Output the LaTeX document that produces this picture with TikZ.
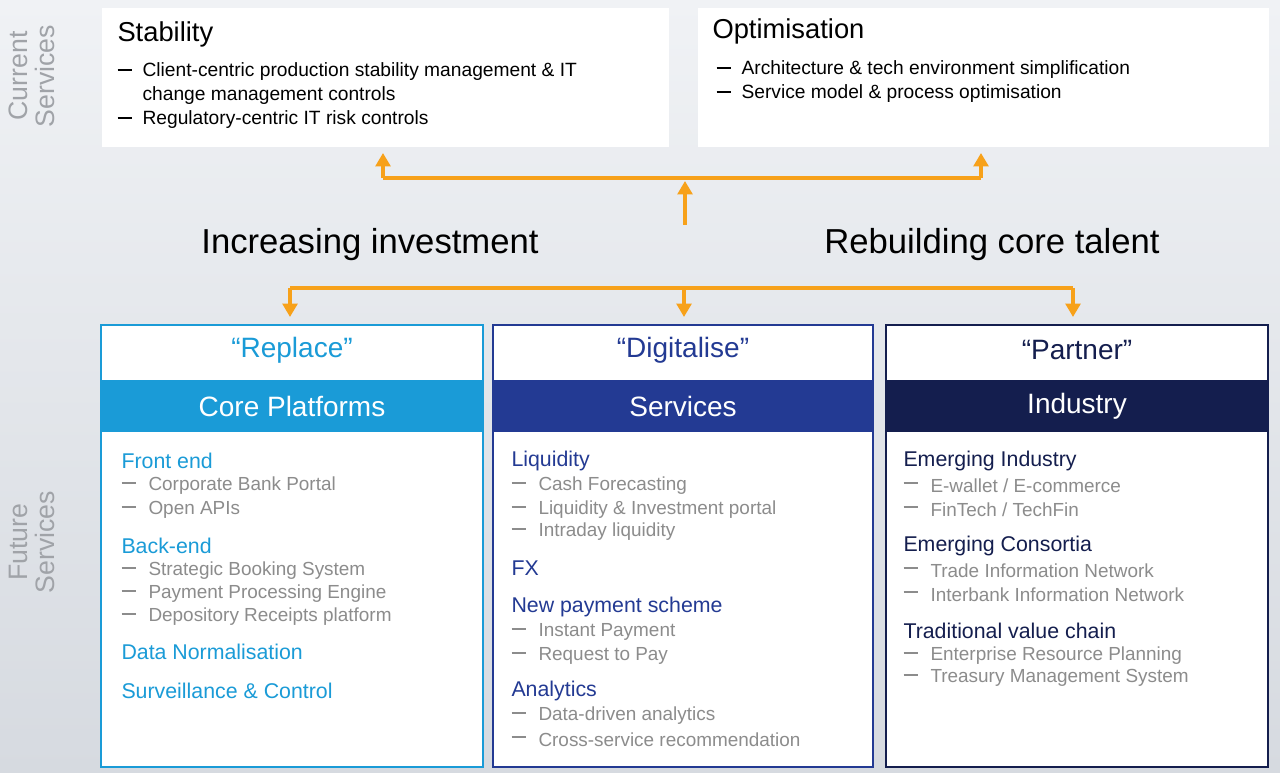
\documentclass[tikz,border=0pt]{standalone}
\usepackage{fontspec}
\setmainfont{Liberation Sans}
\usetikzlibrary{arrows.meta}
\definecolor{orangeArr}{RGB}{247,161,26}
\definecolor{replaceBlue}{RGB}{26,155,215}
\definecolor{digitBlue}{RGB}{35,58,147}
\definecolor{partnerNavy}{RGB}{20,30,78}
\definecolor{itemGrey}{RGB}{140,140,140}
\definecolor{sideGrey}{RGB}{160,163,168}
\tikzset{every picture/.style={line width=0.75pt}}
\tikzset{
  topbox/.style={fill=white, draw=none, inner sep=0pt},
  head/.style={anchor=west, inner sep=0pt, font=\fontsize{20.5}{24}\selectfont},
  bullet/.style={anchor=north west, inner sep=0pt, align=left, font=\fontsize{14.4}{18}\selectfont},
  big/.style={inner sep=0pt, font=\fontsize{26}{30}\selectfont},
  side/.style={rotate=90, inner sep=0pt, align=center, text=sideGrey, font=\fontsize{20}{20}\selectfont},
  orange/.style={draw=orangeArr, line width=2.8pt},
  orangeTip/.style={orange, -{Triangle[length=10pt,width=11pt]}},
  title/.style={inner sep=0pt, font=\fontsize{21}{24}\selectfont},
  sub/.style={anchor=west, inner sep=0pt, font=\fontsize{16}{18}\selectfont},
  item/.style={anchor=west, inner sep=0pt, text=itemGrey, font=\fontsize{14.2}{16}\selectfont},
}
\newcommand{\dashmark}{\raisebox{0.3em}{\rule{0.75em}{0.09em}}}
\newcommand{\colItem}[3]{% x, y, text
  \node[item] at (#1,#2) {\dashmark};
  \node[item] at (#1+27,#2) {#3};}

\begin{document}
\begin{tikzpicture}[x=0.75pt,y=0.75pt,yscale=-1,xscale=1]
%background
\shade[top color={rgb,255:red,240;green,242;blue,245}, bottom color={rgb,255:red,214;green,218;blue,224}] (0,0) rectangle (1280,773);
\useasboundingbox (0,0) rectangle (1280,773);

%current services
\node[side] (cur) at (32,76) {Current\\Services};
\node[topbox, minimum width=425.25pt, minimum height=104.25pt, anchor=north west] (stab) at (101,8) {};
\node[topbox, minimum width=428.25pt, minimum height=104.25pt, anchor=north west] (opt) at (697,8) {};
\node[head] (stabT) at (117,34) {Stability};
\node[bullet] (stabB) at (117,62) {\dashmark\ \ Client-centric production stability management \& IT\\\phantom{\dashmark}\ \ change management controls\\\dashmark\ \ Regulatory-centric IT risk controls};
\node[head] (optT) at (712,31) {Optimisation};
\node[bullet] (optB) at (716,60) {\dashmark\ \ Architecture \& tech environment simplification\\\dashmark\ \ Service model \& process optimisation};

%arrows up
\coordinate (upL) at (383,178);
\coordinate (upR) at (981,178);
\coordinate (upM) at (685,225);
\coordinate (upMt) at (685,181);
\draw[orange] (upL) -- (upR);
\draw[orangeTip] (upL) -- (383,153);
\draw[orangeTip] (upR) -- (981,153);
\draw[orangeTip] (upM) -- (upMt);

\node[big] (inv) at (370,245) {Increasing investment};
\node[big] (tal) at (992,245) {Rebuilding core talent};

%arrows down
\coordinate (dnL) at (290,288);
\coordinate (dnM) at (684,288);
\coordinate (dnR) at (1073,288);
\draw[orange] (dnL) -- (dnR);
\draw[orangeTip] (dnL) -- (290,317);
\draw[orangeTip] (dnM) -- (684,317);
\draw[orangeTip] (dnR) -- (1073,317);

%columns
\foreach \x/\w/\c/\q/\t [count=\i] in {101/382/replaceBlue/``Replace''/Core Platforms, 493/380/digitBlue/``Digitalise''/Services, 886/382/partnerNavy/``Partner''/Industry}{
  \fill[white] (\x,325) rectangle (\x+\w,767);
  \fill[\c] (\x,380) rectangle (\x+\w,432);
  \draw[\c, line width=1.5pt] (\x,325) rectangle (\x+\w,767);
  \node[title, text=\c] (q\i) at (\x+\w/2,350) {\q};
  \node[title, text=white] (t\i) at (\x+\w/2,406) {\t};
}

%Replace column
\node[sub, text=replaceBlue] (fe) at (121,461) {Front end};
\colItem{121}{486}{Corporate Bank Portal}
\colItem{121}{510}{Open APIs}
\node[sub, text=replaceBlue] (be) at (121,546) {Back-end};
\colItem{121}{571}{Strategic Booking System}
\colItem{121}{594}{Payment Processing Engine}
\colItem{121}{617}{Depository Receipts platform}
\node[sub, text=replaceBlue] (dn) at (121,652) {Data Normalisation};
\node[sub, text=replaceBlue] (sc) at (121,691) {Surveillance \& Control};

%Digitalise column
\node[sub, text=digitBlue] (liq) at (511,461) {Liquidity};
\colItem{511}{486}{Cash Forecasting}
\colItem{511}{510}{Liquidity \& Investment portal}
\colItem{511}{532}{Intraday liquidity}
\node[sub, text=digitBlue] (fx) at (511,568) {FX};
\node[sub, text=digitBlue] (nps) at (511,607) {New payment scheme};
\colItem{511}{632}{Instant Payment}
\colItem{511}{656}{Request to Pay}
\node[sub, text=digitBlue] (ana) at (511,691) {Analytics};
\colItem{511}{716}{Data-driven analytics}
\colItem{511}{740}{Cross-service recommendation}

%Partner column
\node[sub, text=partnerNavy] (ei) at (903,461) {Emerging Industry};
\colItem{903}{486}{E-wallet / E-commerce}
\colItem{903}{510}{FinTech / TechFin}
\node[sub, text=partnerNavy] (ec) at (903,546) {Emerging Consortia};
\colItem{903}{571}{Trade Information Network}
\colItem{903}{595}{Interbank Information Network}
\node[sub, text=partnerNavy] (tv) at (903,631) {Traditional value chain};
\colItem{903}{656}{Enterprise Resource Planning}
\colItem{903}{678}{Treasury Management System}

\node[side] (fut) at (32,542) {Future\\Services};
\end{tikzpicture}
\end{document}
